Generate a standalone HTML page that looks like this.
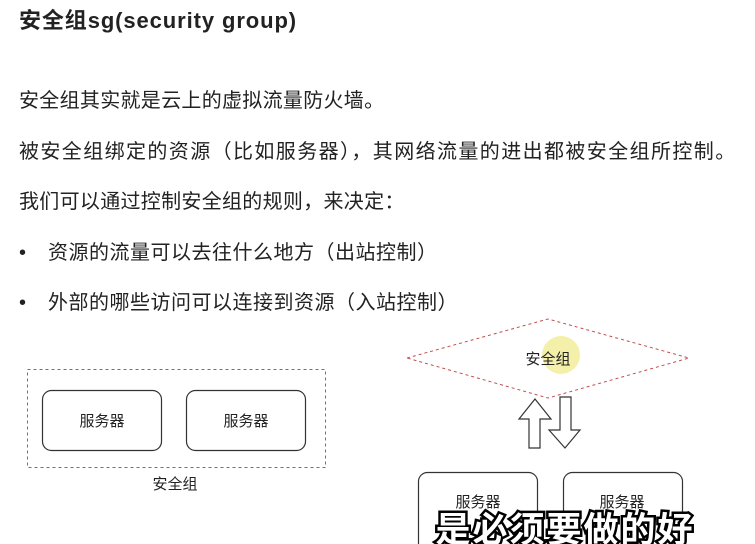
<!DOCTYPE html>
<html><head><meta charset="utf-8"><style>
html,body{margin:0;padding:0;background:#fff;width:755px;height:544px;overflow:hidden;position:relative;font-family:"Liberation Sans","Noto Sans CJK SC",sans-serif;color:#222}
.t{position:absolute;white-space:nowrap;font-size:20px;line-height:24px}
.b{position:absolute;left:19px;font-size:20px;line-height:24px}
</style></head><body>
<div class="t" style="left:19px;top:9px;font-size:22px;font-weight:bold;letter-spacing:0.9px">安全组sg(security group)</div>
<div class="t" style="left:19px;top:89px;letter-spacing:0.3px">安全组其实就是云上的虚拟流量防火墙。</div>
<div class="t" style="left:19px;top:140px;letter-spacing:1.4px">被安全组绑定的资源（比如服务器），其网络流量的进出都被安全组所控制。</div>
<div class="t" style="left:19px;top:190px;letter-spacing:0.3px">我们可以通过控制安全组的规则，来决定：</div>
<div class="b" style="top:241px">•</div>
<div class="t" style="left:48px;top:241px;letter-spacing:0.5px">资源的流量可以去往什么地方（出站控制）</div>
<div class="b" style="top:291px">•</div>
<div class="t" style="left:48px;top:291px;letter-spacing:0.5px">外部的哪些访问可以连接到资源（入站控制）</div>
<svg width="755" height="544" style="position:absolute;left:0;top:0" font-family="Liberation Sans,Noto Sans CJK SC,sans-serif">
<circle cx="561" cy="355" r="19" fill="#f3eea0" opacity="0.9"/>
<rect x="27.5" y="369.5" width="298" height="98" fill="none" stroke="#c0504d" stroke-dasharray="3,3"/>
<rect x="42.5" y="390.5" width="119" height="60" rx="9" fill="none" stroke="#333" stroke-width="1.2"/>
<rect x="186.5" y="390.5" width="119" height="60" rx="9" fill="none" stroke="#333" stroke-width="1.2"/>
<text x="102" y="426" font-size="15" text-anchor="middle" fill="#222">服务器</text>
<text x="246" y="426" font-size="15" text-anchor="middle" fill="#222">服务器</text>
<text x="175" y="489" font-size="15" text-anchor="middle" fill="#222">安全组</text>
<polygon points="407,358 548,319 689,358 548,398" fill="none" stroke="#c0504d" stroke-dasharray="3,3"/>
<text x="548" y="364" font-size="15" text-anchor="middle" fill="#222">安全组</text>
<polygon points="535,399 551,419 540,419 540,448 529,448 529,419 519,419" fill="#fff" stroke="#333" stroke-width="1.2"/>
<polygon points="560,397 571,397 571,430 580,430 565,448 549,430 560,430" fill="#fff" stroke="#333" stroke-width="1.2"/>
<rect x="418.5" y="472.5" width="119" height="80" rx="9" fill="none" stroke="#333" stroke-width="1.2"/>
<rect x="563.5" y="472.5" width="119" height="80" rx="9" fill="none" stroke="#333" stroke-width="1.2"/>
<text x="478" y="507" font-size="15" text-anchor="middle" fill="#222">服务器</text>
<text x="622" y="507" font-size="15" text-anchor="middle" fill="#222">服务器</text>
<text x="565" y="542" font-size="35" font-weight="bold" text-anchor="middle" fill="#fff" stroke="#000" stroke-width="5" paint-order="stroke" letter-spacing="2">是必须要做的好</text>
</svg>
</body></html>
